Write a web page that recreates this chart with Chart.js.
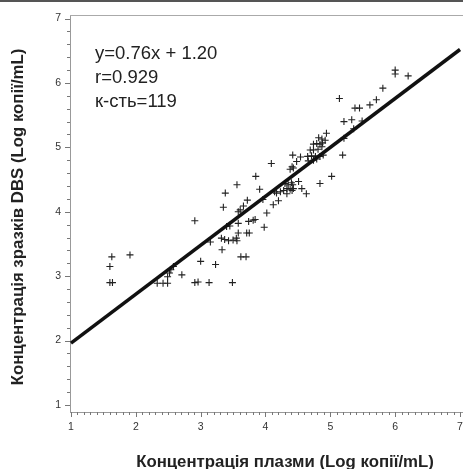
<!DOCTYPE html>
<html>
<head>
<meta charset="utf-8">
<script src="https://cdn.jsdelivr.net/npm/chart.js@4.4.1/dist/chart.umd.min.js"></script>
<style>
  html, body { margin: 0; padding: 0; background: #fff; }
  #wrap { position: relative; width: 463px; height: 469px; }
  #topRule { position: absolute; left: 0; top: 0; width: 463px; height: 2px; background: #555; }
  canvas { position: absolute; left: 0; top: 0; }
</style>
</head>
<body>
<div id="wrap">
  <canvas id="c" width="463" height="469"></canvas>
  <div id="topRule"></div>
</div>
<script>
// ---- data ----
const plasmaLog = [1.60,1.64,1.60,1.63,1.91,2.33,2.42,2.49,2.49,2.52,
  2.54,2.58,2.71,2.91,2.96,3.13,3.49,2.91,3.00,3.23,
  3.33,3.15,3.32,3.37,3.43,3.50,3.55,3.56,3.62,3.70,
  3.71,3.75,3.58,3.40,3.45,3.58,3.35,3.38,3.56,3.58,
  3.61,3.66,3.72,3.74,3.81,3.84,3.85,3.91,3.96,3.98,
  4.02,4.12,4.20,4.14,4.17,4.23,4.28,4.33,4.38,4.41,
  4.43,4.33,4.56,4.63,4.30,4.40,4.35,4.42,4.51,4.84,
  4.38,4.41,4.43,4.09,4.48,4.42,4.54,4.65,4.71,4.77,
  4.84,4.66,4.74,4.79,4.69,4.74,4.81,4.74,4.79,4.84,
  4.88,4.87,4.82,4.87,4.92,4.94,4.89,5.19,5.02,5.21,
  5.36,5.21,5.33,5.49,5.14,5.38,5.45,5.61,5.71,5.81,
  6.00,6.00,6.20];
const dbsLog = [2.90,2.90,3.15,3.30,3.33,2.89,2.89,2.89,2.99,3.05,
  3.10,3.15,3.02,2.90,2.91,2.90,2.90,3.86,3.23,3.18,
  3.41,3.53,3.59,3.57,3.55,3.56,3.59,3.55,3.30,3.30,
  3.67,3.67,3.67,3.77,3.78,3.82,4.07,4.29,4.42,4.00,
  4.03,4.09,4.18,3.85,3.87,3.88,4.55,4.35,4.19,3.76,
  3.98,4.11,4.17,4.31,4.29,4.31,4.33,4.36,4.35,4.33,
  4.36,4.28,4.36,4.28,4.44,4.45,4.42,4.42,4.47,4.44,
  4.66,4.70,4.68,4.75,4.78,4.88,4.85,4.86,4.87,4.86,
  4.86,4.79,4.80,4.82,4.96,4.96,4.97,5.05,5.06,5.05,
  5.07,5.01,5.15,5.13,5.11,5.22,4.88,4.88,4.55,5.14,
  5.29,5.40,5.43,5.41,5.76,5.61,5.61,5.66,5.74,5.92,
  6.20,6.14,6.11];
const fitSlope = 0.76;
const fitIntercept = 1.20;
const fitRange = [1, 7];
const xTickValues = [1, 2, 3, 4, 5, 6, 7];
const yTickValues = [1, 2, 3, 4, 5, 6, 7];
const xTickLabels = ['1', '2', '3', '4', '5', '6', '7'];
const yTickLabels = ['1', '2', '3', '4', '5', '6', '7'];
const statsLines = ['y=0.76x + 1.20', 'r=0.929', 'к-сть=119'];
const xTitle = 'Концентрація плазми (Log копії/mL)';
const yTitle = 'Концентрація зразків DBS (Log копії/mL)';

// ---- build datasets ----
const scatterPts = plasmaLog.map((x, i) => ({ x: x, y: dbsLog[i] }));
const fitPts = fitRange.map(x => ({ x: x, y: fitSlope * x + fitIntercept }));

const FONT = '"Liberation Sans", Arial, Helvetica, sans-serif';

const decorPlugin = {
  id: 'decor',
  afterDraw(chart) {
    const ctx = chart.ctx;
    const xs = chart.scales.x, ys = chart.scales.y;
    const area = chart.chartArea;
    ctx.save();
    // top frame line
    ctx.strokeStyle = '#aaa';
    ctx.lineWidth = 1;
    ctx.beginPath();
    ctx.moveTo(area.left, area.top + 0.5);
    ctx.lineTo(chart.width, area.top + 0.5);
    ctx.stroke();
    // tick marks
    ctx.strokeStyle = '#777';
    ctx.beginPath();
    for (let k = 0; k <= 60; k++) {
      const v = 1 + k * 0.1;
      const px = Math.round(xs.getPixelForValue(v)) + 0.5;
      const len = (k % 10 === 0) ? 5 : 3;
      ctx.moveTo(px, area.bottom);
      ctx.lineTo(px, area.bottom + len);
    }
    for (let k = 0; k <= 30; k++) {
      const v = 1 + k * 0.2;
      const py = Math.round(ys.getPixelForValue(v)) + 0.5;
      const len = (k % 5 === 0) ? 5 : 3;
      ctx.moveTo(area.left, py);
      ctx.lineTo(area.left - len, py);
    }
    ctx.stroke();
    // stats text
    ctx.fillStyle = '#222';
    ctx.font = '18.5px ' + FONT;
    ctx.textAlign = 'left';
    ctx.textBaseline = 'alphabetic';
    statsLines.forEach((s, i) => ctx.fillText(s, 95, 59 + i * 24));
    // axis titles
    ctx.font = 'bold 16.8px ' + FONT;
    ctx.textAlign = 'center';
    ctx.textBaseline = 'middle';
    ctx.fillText(xTitle, 285, 462);
    ctx.translate(18, 217);
    ctx.rotate(-Math.PI / 2);
    ctx.fillText(yTitle, 0, 0);
    ctx.restore();
  }
};

new Chart(document.getElementById('c'), {
  data: {
    datasets: [
      {
        type: 'line',
        data: fitPts,
        borderColor: '#111',
        borderWidth: 3.5,
        pointRadius: 0,
        fill: false,
        clip: false,
        order: 0
      },
      {
        type: 'scatter',
        data: scatterPts,
        pointStyle: 'cross',
        pointRadius: 3.5,
        borderWidth: 1.1,
        borderColor: '#222',
        backgroundColor: '#222',
        order: 1
      }
    ]
  },
  options: {
    responsive: false,
    devicePixelRatio: 1,
    animation: false,
    layout: { autoPadding: false, padding: { left: 0, right: 0, top: 15, bottom: 0 } },
    plugins: { legend: { display: false }, tooltip: { enabled: false } },
    scales: {
      x: {
        type: 'linear',
        min: 0.985,
        max: 7.046,
        afterBuildTicks: s => { s.ticks = xTickValues.map(v => ({ value: v })); },
        afterFit: s => {
          s.height = 469 - 412;
          s.paddingLeft = 0; s.paddingRight = 0;
        },
        grid: { display: false, drawTicks: false, tickLength: 0 },
        border: { display: true, color: '#999', width: 1 },
        ticks: {
          padding: 9,
          color: '#333',
          font: { family: FONT, size: 10.5 },
          callback: (v) => xTickLabels[xTickValues.indexOf(v)]
        }
      },
      y: {
        type: 'linear',
        min: 0.89,
        max: 7.056,
        afterBuildTicks: s => { s.ticks = yTickValues.map(v => ({ value: v })); },
        afterFit: s => {
          s.width = 70;
          s.paddingTop = 0; s.paddingBottom = 0;
        },
        grid: { display: false, drawTicks: false, tickLength: 0 },
        border: { display: true, color: '#999', width: 1 },
        ticks: {
          padding: 9,
          color: '#333',
          font: { family: FONT, size: 10.5 },
          callback: (v) => yTickLabels[yTickValues.indexOf(v)]
        }
      }
    }
  },
  plugins: [decorPlugin]
});
</script>
</body>
</html>
